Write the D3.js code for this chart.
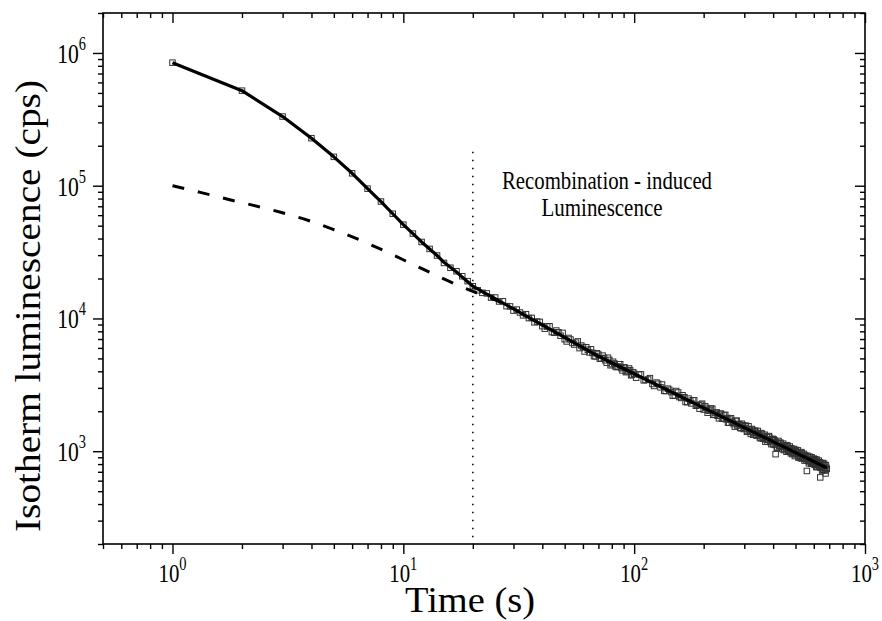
<!DOCTYPE html>
<html><head><meta charset="utf-8">
<script src="https://cdn.jsdelivr.net/npm/d3@7"></script>
<style>
body{margin:0;background:#fff}
svg{display:block}
text{font-family:"Liberation Serif","Times New Roman",Times,serif;fill:#000}
</style>
</head><body>
<svg id="chart" width="882" height="621"></svg>
<script>
// ---- measured data (time in s, isotherm luminescence in cps) ----
const times = [1,2,3,4,5,6,7,8,9,10,11,12,13,14,15,16,17,18,19,20,21,22,23,24,25,26,27,28,29,30,
  31,32,33,34,35,36,37,38,39,40,41,42,43,44,45,46,47,48,49,50,51,52,53,54,55,56,57,58,59,60,
  61,62,63,64,65,66,67,68,69,70,71,72,73,74,75,76,77,78,79,80,81,82,83,84,85,86,87,88,89,90,
  91,92,93,94,95,96,97,98,99,100,102,105,107,110,112,115,117,120,122,125,127,130,132,135,137,140,
  142,145,147,150,152,155,157,160,162,165,167,170,172,175,177,180,182,185,187,190,192,195,197,200,
  203,205,208,210,213,215,218,220,223,225,228,230,233,235,238,240,243,245,248,250,253,255,258,260,
  263,265,268,270,273,275,278,280,283,285,288,290,293,295,298,300,303,305,308,310,313,315,318,320,
  323,325,328,330,333,335,338,340,343,345,348,350,353,355,358,360,363,365,368,370,373,375,378,380,
  383,385,388,390,393,395,398,400,405,410,415,420,425,430,435,440,445,450,455,460,465,470,475,480,
  485,490,495,500,505,510,515,520,525,530,535,540,545,550,555,560,565,570,575,580,585,590,595,600,
  605,610,615,620,625,630,635,640,645,650,655,660,665,670,675,680,683];
const counts = [845000,520000,332000,228000,165000,124000,95000,76000,61500,50900,43600,37700,33400,
  29800,26200,24100,22700,20800,19100,17500,16300,15600,15440,14370,14380,13430,13470,12380,12320,11460,
  11670,11090,10550,10770,10070,10090,9350,9480,9420,8750,8370,8690,8740,7900,7810,8110,7870,7410,7780,6980,
  6710,7130,6940,6540,6360,6570,6720,5980,6250,6090,5640,6070,5810,5550,5860,5500,5200,5180,5470,5350,
  4970,5010,5250,5040,4840,4640,5060,4870,4440,4530,4720,4580,4350,4300,4350,4520,4520,4220,4060,4270,
  4270,3940,3990,4070,4200,4080,3730,3780,3940,3830,3580,3780,3790,3420,3440,3470,3550,3210,3100,3290,
  3220,3030,3180,2850,2840,2960,2900,2790,2620,2630,2840,2770,2560,2520,2640,2550,2350,2340,2490,2400,
  2290,2420,2420,2200,2230,2220,2090,2240,2280,2060,2180,2120,1950,2020,2050,2100,2090,1880,1880,1940,
  1960,1850,1770,1910,1920,1760,1760,1860,1880,1740,1780,1640,1640,1730,1770,1670,1640,1600,1530,1690,
  1700,1560,1600,1600,1500,1490,1610,1570,1470,1490,1540,1560,1400,1420,1540,1460,1400,1350,1470,1450,
  1330,1380,1410,1430,1320,1310,1420,1360,1330,1270,1250,1370,1350,1260,1240,1290,1330,1180,1230,1280,
  1180,1220,1300,1280,1200,1170,1130,1220,1240,1130,1210,950,1060,1150,1090,1160,1080,1100,1020,1100,
  1040,1110,995,1050,1010,1050,950,1000,955,1025,950,980,895,970,925,985,885,925,880,935,875,710,905,
  840,910,850,805,865,815,880,790,830,760,835,785,850,765,635,815,760,790,725,805,730,680,750,735];

// interleaved readings in the late tail
const tailTimes = [402,407,412,417,422,427,432,437,442,447,452,457,462,467,472,477,482,487,492,497,
  502,507,512,517,522,527,532,537,542,547,552,557,562,567,572,577,582,587,592,597,602,607,612,617,
  622,627,632,637,642,647,652,657,662,667,672,677];
const tailCounts = [1230,1115,1175,1070,1195,1095,1140,1040,1140,1040,1075,990,1085,1010,1085,965,
  1025,970,1040,920,1000,955,1015,910,960,885,965,890,955,850,905,855,925,860,810,900,830,900,805,
  855,800,870,805,865,760,820,770,825,750,790,715,815,745,785,715,785];

// fitted total decay (solid line)
const fitTimes  = [1,2,3,4,5,6,7,8,9,10,11,12,13,14,15,16,17,18,19,20,22,25,30,40,50,70,100,150,200,300,400,500,600,683];
const fitCounts = [845000,520000,332000,228000,165000,124000,95000,76000,61500,50900,43600,37700,33400,
  29800,26500,24300,22400,20500,18900,17500,15900,14100,11800,8930,7200,5190,3830,2710,2120,1505,1180,976,836,748];

// recombination-induced component (dashed line)
const recTimes  = [1,1.32,1.72,2.94,3.88,5.09,6.71,8.75,11.4,14.9,20,25,30];
const recCounts = [100000,89100,79400,63100,54700,46200,38000,30900,24800,19950,16000,13800,11900];

// boundary marker (dotted line)
const boundaryTime = 20;
const boundaryRange = [200, 180000];

// axis ticks
const xMajorTicks = [1,10,100,1000];
const xMinorTicks = [0.5,0.6,0.7,0.8,0.9,2,3,4,5,6,7,8,9,20,30,40,50,60,70,80,90,200,300,400,500,600,700,800,900];
const yMajorTicks = [1000,10000,100000,1000000];
const yMinorTicks = [200,300,400,500,600,700,800,900,2000,3000,4000,5000,6000,7000,8000,9000,
  20000,30000,40000,50000,60000,70000,80000,90000,200000,300000,400000,500000,600000,700000,800000,900000,2000000];
const xTickExp = ["0","1","2","3"];
const yTickExp = ["3","4","5","6"];

const xTitle = "Time (s)";
const yTitle = "Isotherm luminescence (cps)";
const noteLines = ["Recombination - induced", "Luminescence"];

// ---- layout ----
const L = 103, R = 865, T = 13, B = 544;
const svg = d3.select("#chart");
const x = d3.scaleLog().domain([0.5, 1000]).range([L, R]);
const y = d3.scaleLog().domain([200, 2000000]).range([B, T]);

function ticks(axis, tr) {
  const g = svg.append("g").attr("transform", tr).call(axis);
  g.select(".domain").remove();
  g.selectAll("line").attr("stroke", "#000").attr("stroke-width", 1.4);
  g.selectAll("text").remove();
  return g;
}
ticks(d3.axisBottom(x).tickValues(xMajorTicks).tickSize(10), `translate(0,${B})`);
ticks(d3.axisBottom(x).tickValues(xMinorTicks).tickSize(5), `translate(0,${B})`);
ticks(d3.axisTop(x).tickValues(xMajorTicks).tickSize(-10), `translate(0,${T})`);
ticks(d3.axisTop(x).tickValues(xMinorTicks).tickSize(-5), `translate(0,${T})`);
ticks(d3.axisLeft(y).tickValues(yMajorTicks).tickSize(10), `translate(${L},0)`);
ticks(d3.axisLeft(y).tickValues(yMinorTicks).tickSize(5), `translate(${L},0)`);
ticks(d3.axisRight(y).tickValues(yMajorTicks).tickSize(-10), `translate(${R},0)`);
ticks(d3.axisRight(y).tickValues(yMinorTicks).tickSize(-5), `translate(${R},0)`);

svg.append("rect").attr("x", L).attr("y", T).attr("width", R - L).attr("height", B - T)
  .attr("fill", "none").attr("stroke", "#000").attr("stroke-width", 1.6);

// tick labels
xMajorTicks.forEach((v, i) => {
  const g = svg.append("g").attr("transform", `translate(${x(v)},${B + 38}) scale(0.8,1)`);
  const t = g.append("text").attr("text-anchor", "middle").attr("font-size", 26);
  t.append("tspan").text("10");
  t.append("tspan").attr("dy", -12).attr("font-size", 18).text(xTickExp[i]);
});
yMajorTicks.forEach((v, i) => {
  const g = svg.append("g").attr("transform", `translate(86,${y(v) + 10}) scale(0.8,1)`);
  const t = g.append("text").attr("text-anchor", "end").attr("font-size", 27);
  t.append("tspan").text("10");
  t.append("tspan").attr("dy", -13).attr("font-size", 18).text(yTickExp[i]);
});

// titles
svg.append("text").attr("x", 470).attr("y", 612).attr("text-anchor", "middle")
  .attr("font-size", 35).attr("textLength", 130).attr("lengthAdjust", "spacingAndGlyphs").text(xTitle);
svg.append("text").attr("transform", `translate(40,306) rotate(-90)`).attr("text-anchor", "middle")
  .attr("font-size", 35).attr("textLength", 452).attr("lengthAdjust", "spacingAndGlyphs").text(yTitle);

// annotation
svg.append("text").attr("x", 607).attr("y", 189).attr("text-anchor", "middle").attr("font-size", 25)
  .attr("textLength", 210).attr("lengthAdjust", "spacingAndGlyphs").text(noteLines[0]);
svg.append("text").attr("x", 602).attr("y", 216).attr("text-anchor", "middle").attr("font-size", 25)
  .attr("textLength", 121).attr("lengthAdjust", "spacingAndGlyphs").text(noteLines[1]);

// dotted boundary
svg.append("line").attr("x1", x(boundaryTime)).attr("x2", x(boundaryTime))
  .attr("y1", y(boundaryRange[1])).attr("y2", y(boundaryRange[0]))
  .attr("stroke", "#000").attr("stroke-width", 1.5).attr("stroke-dasharray", "1.5,6.5");

// data markers
const pts = times.map((t, i) => [t, counts[i]]).concat(tailTimes.map((t, i) => [t, tailCounts[i]]));
svg.append("g").selectAll("rect").data(pts).join("rect")
  .attr("x", d => x(d[0]) - 2.75).attr("y", d => y(d[1]) - 2.75)
  .attr("width", 5.5).attr("height", 5.5)
  .attr("fill", "none").attr("stroke", "#333").attr("stroke-width", 1);

// dashed recombination component
const smooth = d3.line().x(d => x(d[0])).y(d => y(d[1])).curve(d3.curveMonotoneX);
svg.append("path").attr("d", smooth(recTimes.map((t, i) => [t, recCounts[i]])))
  .attr("fill", "none").attr("stroke", "#000").attr("stroke-width", 3)
  .attr("stroke-dasharray", "12,14");

// fitted total (solid, straight segments between points)
const straight = d3.line().x(d => x(d[0])).y(d => y(d[1]));
svg.append("path").attr("d", straight(fitTimes.map((t, i) => [t, fitCounts[i]])))
  .attr("fill", "none").attr("stroke", "#000").attr("stroke-width", 3.2)
  .attr("stroke-linejoin", "round");
</script>
</body></html>
